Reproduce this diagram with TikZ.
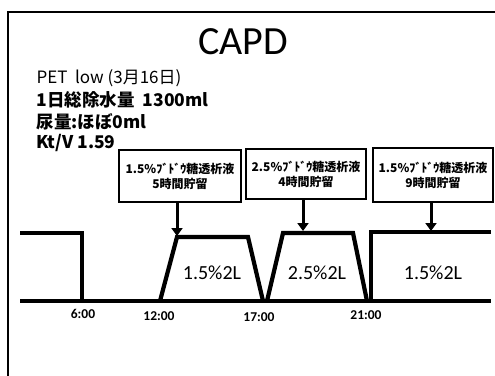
\documentclass[tikz,border=0pt]{standalone}
\usepackage{fontspec}
\setmainfont{Carlito}
\newfontfamily\jp{Noto Sans CJK JP}
\usetikzlibrary{arrows.meta}
\begin{document}
\begin{tikzpicture}[x=1pt,y=-1pt,
  infobox/.style={draw,line width=2.8pt,minimum width=120pt,minimum height=52pt,align=center,inner sep=2pt,font=\bfseries\jp\fontsize{12}{15}\selectfont},
  tank/.style={line width=4.2pt,line join=miter},
  base/.style={line width=3.4pt},
  drop/.style={line width=3pt,-{Triangle[length=8pt,width=11pt]}},
  vol/.style={font=\fontsize{20}{24}\selectfont},
  hour/.style={font=\bfseries\fontsize{13.5}{15}\selectfont},
  info/.style={anchor=west,font=\bfseries\jp\fontsize{17.5}{20}\selectfont}]
\useasboundingbox (0,0) rectangle (495,375);
\begin{scope}
\clip (0,0) rectangle (495,375);
\draw[line width=1.6pt] (8,12) rectangle (510,390);
\end{scope}
\node (title) at (243,42) {\fontsize{40}{46}\selectfont CAPD};
\node[anchor=west,font=\jp\fontsize{17}{20}\selectfont] (l1) at (33,78) {PET\ \ low (3月16日)};
\node[info] (l2) at (33,100) {1日総除水量\ \ 1300ml};
\node[info] (l3) at (33,122) {尿量:ほぼ0ml};
\node[info] (l4) at (33,143) {Kt/V 1.59};
\node[infobox,minimum width=122pt] (b1) at (180,176) {1.5\%ﾌﾞﾄﾞｳ糖透析液\\5時間貯留};
\node[infobox,minimum height=50pt] (b2) at (306,174) {2.5\%ﾌﾞﾄﾞｳ糖透析液\\4時間貯留};
\node[infobox,minimum height=54pt] (b3) at (433,175) {1.5\%ﾌﾞﾄﾞｳ糖透析液\\9時間貯留};
\coordinate (a1) at (177,236);
\coordinate (a2) at (303,231);
\coordinate (a3) at (431,231);
\draw[drop] (b1.south -| a1) -- (a1);
\draw[drop] (b2.south -| a2) -- (a2);
\draw[drop] (b3.south -| a3) -- (a3);
\draw[base] (20,301) -- (491,301);
\draw[tank] (20,233) -- (82,233) -- (82,301);
\draw[tank] (160,301) -- (177,237) -- (248,237) -- (263,301);
\draw[tank] (267,301) -- (283,233) -- (353,233) -- (367,301);
\draw[tank] (371,301) -- (371,232) -- (491,232);
\node[vol] (v1) at (212,273) {1.5\%2L};
\node[vol] (v2) at (317,273) {2.5\%2L};
\node[vol] (v3) at (433,273) {1.5\%2L};
\node[hour] (t1) at (83,314) {6:00};
\node[hour] (t2) at (159,316) {12:00};
\node[hour] (t3) at (259,317) {17:00};
\node[hour] (t4) at (366,315) {21:00};
\end{tikzpicture}
\end{document}
